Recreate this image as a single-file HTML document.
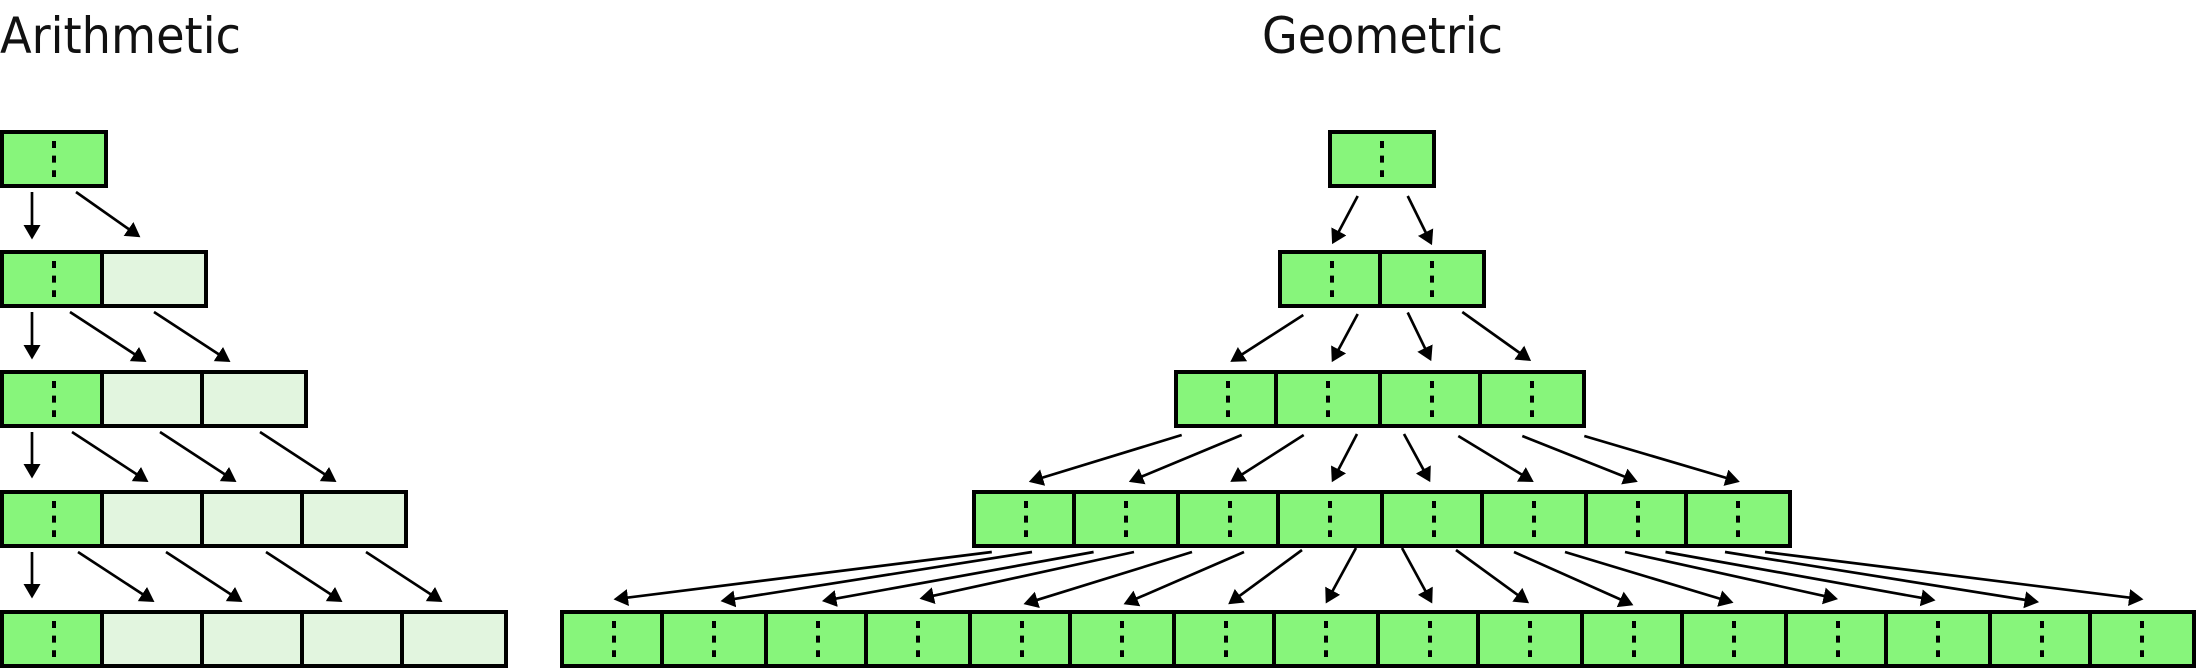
<!DOCTYPE html>
<html><head><meta charset="utf-8"><style>
html,body{margin:0;padding:0;background:#fff;width:2196px;height:668px;overflow:hidden}
svg{display:block}
text{font-family:"DejaVu Sans",sans-serif;font-size:49.5px;fill:#111}
.g{fill:#87f57b;stroke:#000;stroke-width:4}
.l{fill:#e2f5df;stroke:#000;stroke-width:4}
.d{stroke:#000;stroke-width:4;stroke-dasharray:7 7.6;fill:none}
.a line{stroke:#000;stroke-width:2.67}
</style></head><body>
<svg width="2196" height="668" viewBox="0 0 2196 668" xmlns="http://www.w3.org/2000/svg">
<defs>
<marker id="h" markerUnits="userSpaceOnUse" markerWidth="17" markerHeight="20" refX="10" refY="10" orient="auto"><path d="M0 1.5L14.5 10L0 18.5Z" fill="#000"/></marker>
</defs>
<text x="0" y="53" textLength="241" lengthAdjust="spacingAndGlyphs">Arithmetic</text>
<text x="1262" y="53" textLength="241" lengthAdjust="spacingAndGlyphs">Geometric</text>

<!-- Arithmetic -->
<g transform="translate(0,130)"><rect class="g" x="2" y="2" width="104" height="54"/><path class="d" d="M54 11V47"/></g>
<g transform="translate(0,250)"><rect class="l" x="102" y="2" width="104" height="54"/><rect class="g" x="2" y="2" width="100" height="54"/><path class="d" d="M54 11V47"/></g>
<g transform="translate(0,370)"><rect class="l" x="202" y="2" width="104" height="54"/><rect class="l" x="102" y="2" width="100" height="54"/><rect class="g" x="2" y="2" width="100" height="54"/><path class="d" d="M54 11V47"/></g>
<g transform="translate(0,490)"><rect class="l" x="302" y="2" width="104" height="54"/><rect class="l" x="202" y="2" width="100" height="54"/><rect class="l" x="102" y="2" width="100" height="54"/><rect class="g" x="2" y="2" width="100" height="54"/><path class="d" d="M54 11V47"/></g>
<g transform="translate(0,610)"><rect class="l" x="402" y="2" width="104" height="54"/><rect class="l" x="302" y="2" width="100" height="54"/><rect class="l" x="202" y="2" width="100" height="54"/><rect class="l" x="102" y="2" width="100" height="54"/><rect class="g" x="2" y="2" width="100" height="54"/><path class="d" d="M54 11V47"/></g>

<g class="a">
<line x1="32" y1="192" x2="32" y2="235" marker-end="url(#h)"/>
<line x1="76" y1="192" x2="136.7" y2="234.7" marker-end="url(#h)"/>
<line x1="32" y1="312" x2="32" y2="355" marker-end="url(#h)"/>
<line x1="70" y1="312" x2="142.7" y2="359.5" marker-end="url(#h)"/>
<line x1="154" y1="312" x2="226.7" y2="359.5" marker-end="url(#h)"/>
<line x1="32" y1="432" x2="32" y2="474" marker-end="url(#h)"/>
<line x1="72" y1="432" x2="144.7" y2="479.5" marker-end="url(#h)"/>
<line x1="160" y1="432" x2="232.7" y2="479.5" marker-end="url(#h)"/>
<line x1="260" y1="432" x2="332.7" y2="479.5" marker-end="url(#h)"/>
<line x1="32" y1="552" x2="32" y2="594" marker-end="url(#h)"/>
<line x1="78" y1="552" x2="150.7" y2="599.5" marker-end="url(#h)"/>
<line x1="166" y1="552" x2="238.7" y2="599.5" marker-end="url(#h)"/>
<line x1="266" y1="552" x2="338.7" y2="599.5" marker-end="url(#h)"/>
<line x1="366" y1="552" x2="438.7" y2="599.5" marker-end="url(#h)"/>

<!-- Geometric arrows -->
<line x1="1357.7" y1="196" x2="1334.2" y2="240.2" marker-end="url(#h)"/>
<line x1="1407.7" y1="196" x2="1430" y2="241.1" marker-end="url(#h)"/>

<line x1="1303.3" y1="315" x2="1234.1" y2="359.5" marker-end="url(#h)"/>
<line x1="1357.7" y1="314" x2="1333.9" y2="358.2" marker-end="url(#h)"/>
<line x1="1407.7" y1="312.5" x2="1429.3" y2="357.1" marker-end="url(#h)"/>
<line x1="1462.3" y1="312" x2="1527.4" y2="358.4" marker-end="url(#h)"/>

<line x1="1181.7" y1="435" x2="1033.1" y2="480.5" marker-end="url(#h)"/>
<line x1="1241.7" y1="435" x2="1133" y2="480.2" marker-end="url(#h)"/>
<line x1="1303.7" y1="435" x2="1234.1" y2="479.5" marker-end="url(#h)"/>
<line x1="1357" y1="434" x2="1333.9" y2="478.2" marker-end="url(#h)"/>
<line x1="1404" y1="434" x2="1428.1" y2="478.2" marker-end="url(#h)"/>
<line x1="1458.3" y1="436" x2="1529.9" y2="479.6" marker-end="url(#h)"/>
<line x1="1522.3" y1="436" x2="1633.6" y2="480.2" marker-end="url(#h)"/>
<line x1="1584.3" y1="436" x2="1735.5" y2="480.6" marker-end="url(#h)"/>

<line x1="991.8" y1="552" x2="618" y2="598.8" marker-end="url(#h)"/>
<line x1="1032" y1="552" x2="725" y2="600.4" marker-end="url(#h)"/>
<line x1="1093.6" y1="552" x2="826.4" y2="600.3" marker-end="url(#h)"/>
<line x1="1134" y1="552" x2="923.9" y2="597.8" marker-end="url(#h)"/>
<line x1="1192" y1="552" x2="1027.8" y2="602.8" marker-end="url(#h)"/>
<line x1="1244" y1="552" x2="1127.7" y2="602.4" marker-end="url(#h)"/>
<line x1="1302" y1="550" x2="1231.8" y2="601.6" marker-end="url(#h)"/>
<line x1="1356" y1="548" x2="1327.9" y2="599.5" marker-end="url(#h)"/>
<line x1="1402" y1="548" x2="1430.1" y2="599.5" marker-end="url(#h)"/>
<line x1="1456" y1="550" x2="1525.4" y2="600.6" marker-end="url(#h)"/>
<line x1="1514" y1="552" x2="1629.3" y2="603.4" marker-end="url(#h)"/>
<line x1="1565" y1="552" x2="1729.2" y2="601.5" marker-end="url(#h)"/>
<line x1="1625" y1="552" x2="1833.6" y2="598.1" marker-end="url(#h)"/>
<line x1="1665.5" y1="552" x2="1931.1" y2="599.6" marker-end="url(#h)"/>
<line x1="1725" y1="552" x2="2034.6" y2="601.4" marker-end="url(#h)"/>
<line x1="1765" y1="552" x2="2139" y2="598.8" marker-end="url(#h)"/>
</g>

<!-- Geometric rows -->
<g transform="translate(0,130)"><rect class="g" x="1330" y="2" width="104" height="54"/><path class="d" d="M1382 11V47"/></g>
<g transform="translate(0,250)"><rect class="g" x="1280" y="2" width="100" height="54"/><rect class="g" x="1380" y="2" width="104" height="54"/><path class="d" d="M1332 11V47M1432 11V47"/></g>
<g transform="translate(0,370)"><rect class="g" x="1176" y="2" width="100" height="54"/><rect class="g" x="1276" y="2" width="104" height="54"/><rect class="g" x="1380" y="2" width="100" height="54"/><rect class="g" x="1480" y="2" width="104" height="54"/><path class="d" d="M1228 11V47M1328 11V47M1432 11V47M1532 11V47"/></g>
<g transform="translate(0,490)"><rect class="g" x="974" y="2" width="100" height="54"/><rect class="g" x="1074" y="2" width="104" height="54"/><rect class="g" x="1178" y="2" width="100" height="54"/><rect class="g" x="1278" y="2" width="104" height="54"/><rect class="g" x="1382" y="2" width="100" height="54"/><rect class="g" x="1482" y="2" width="104" height="54"/><rect class="g" x="1586" y="2" width="100" height="54"/><rect class="g" x="1686" y="2" width="104" height="54"/><path class="d" d="M1026 11V47M1126 11V47M1230 11V47M1330 11V47M1434 11V47M1534 11V47M1638 11V47M1738 11V47"/></g>
<g transform="translate(0,610)"><rect class="g" x="562" y="2" width="100" height="54"/><rect class="g" x="662" y="2" width="104" height="54"/><rect class="g" x="766" y="2" width="100" height="54"/><rect class="g" x="866" y="2" width="104" height="54"/><rect class="g" x="970" y="2" width="100" height="54"/><rect class="g" x="1070" y="2" width="104" height="54"/><rect class="g" x="1174" y="2" width="100" height="54"/><rect class="g" x="1274" y="2" width="104" height="54"/><rect class="g" x="1378" y="2" width="100" height="54"/><rect class="g" x="1478" y="2" width="104" height="54"/><rect class="g" x="1582" y="2" width="100" height="54"/><rect class="g" x="1682" y="2" width="104" height="54"/><rect class="g" x="1786" y="2" width="100" height="54"/><rect class="g" x="1886" y="2" width="104" height="54"/><rect class="g" x="1990" y="2" width="100" height="54"/><rect class="g" x="2090" y="2" width="104" height="54"/><path class="d" d="M614 11V47M714 11V47M818 11V47M918 11V47M1022 11V47M1122 11V47M1226 11V47M1326 11V47M1430 11V47M1530 11V47M1634 11V47M1734 11V47M1838 11V47M1938 11V47M2042 11V47M2142 11V47"/></g>
</svg>
</body></html>
